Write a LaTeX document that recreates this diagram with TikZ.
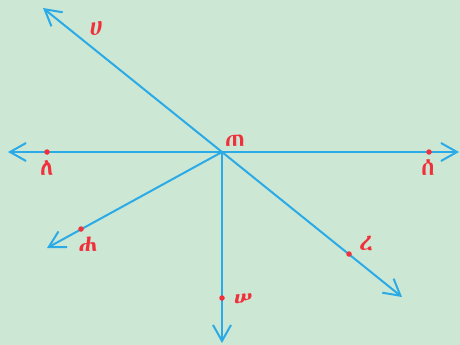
\documentclass[tikz,border=0pt]{standalone}
\usepackage{fontspec}
\usetikzlibrary{arrows.meta}
\IfFontExistsTF{Abyssinica SIL}{\newfontfamily\ethfont{Abyssinica SIL}}{%
 \IfFontExistsTF{FreeSans}{\newfontfamily\ethfont{FreeSans}}{%
  \IfFontExistsTF{FreeSerif}{\newfontfamily\ethfont{FreeSerif}}{%
   \newfontfamily\ethfont{DejaVu Sans}}}}
\definecolor{bgc}{HTML}{CDE7D5}
\definecolor{linec}{HTML}{2AAAE6}
\definecolor{labc}{HTML}{F0303A}
\tikzset{
  ray/.style={draw=linec, line width=2pt, -{Straight Barb[length=16pt,width=18pt,line width=2pt]}},
  dotpt/.style={circle, fill=labc, inner sep=0pt, minimum size=5.5pt},
  lab/.style={text=labc, font=\ethfont\fontsize{24}{24}\selectfont, inner sep=0pt},
}
\begin{document}
\begin{tikzpicture}[x=1pt,y=-1pt]
\fill[bgc] (0,0) rectangle (460,345);
\useasboundingbox (0,0) rectangle (460,345);
\coordinate (O) at (222,152);
\coordinate (L) at (8,152);
\coordinate (R) at (459,152);
\coordinate (UL) at (43,8);
\coordinate (LR) at (402,297);
\coordinate (LL) at (47,248);
\coordinate (D) at (222,343);
\draw[ray] (O) -- (L);
\draw[ray] (O) -- (R);
\draw[ray] (O) -- (UL);
\draw[ray] (O) -- (LR);
\draw[ray] (O) -- (LL);
\draw[ray] (O) -- (D);
\node[dotpt] (p1) at (47,152) {};
\node[dotpt] (p2) at (429,152) {};
\node[dotpt] (p3) at (81,229) {};
\node[dotpt] (p4) at (222,298) {};
\node[dotpt] (p5) at (349,254) {};
\node[lab] (t1) at (96,28) {ሀ};
\node[lab] (t2) at (47,168) {ለ};
\node[lab] (t3) at (428,168) {ሰ};
\node[lab] (t4) at (235,141) {ጠ};
\node[lab] (t5) at (88,244) {ሐ};
\node[lab] (t6) at (243,300) {ሠ};
\node[lab] (t7) at (366,243) {ረ};
\end{tikzpicture}
\end{document}
